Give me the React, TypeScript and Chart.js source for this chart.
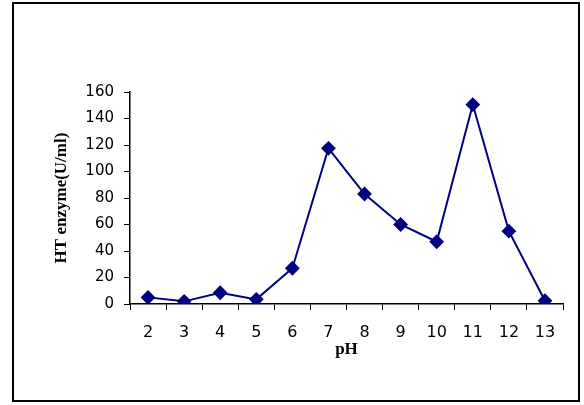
import React, { useEffect, useRef } from "react";
import { Chart, registerables } from "chart.js";

Chart.register(...registerables);

const phLabels = ["2", "3", "4", "5", "6", "7", "8", "9", "10", "11", "12", "13"];
const enzymeValues = [5, 2, 8.5, 3.5, 27, 117.5, 83, 60, 47, 150.5, 55, 2.5];
const yMin = 0;
const yMax = 160;
const yStep = 20;
const yTitle = "HT enzyme(U/ml)";
const xTitle = "pH";

const frame = {
  id: "frame",
  afterDraw(chart: any) {
    const ctx = chart.ctx;
    ctx.save();
    ctx.strokeStyle = "#000";
    ctx.lineWidth = 2;
    ctx.strokeRect(13, 3, 566, 398);
    ctx.restore();
  },
};

export default function App() {
  const ref = useRef<HTMLCanvasElement | null>(null);
  useEffect(() => {
    if (!ref.current) return;
    const chart = new Chart(ref.current, {
      type: "line",
      data: {
        labels: phLabels,
        datasets: [
          {
            data: enzymeValues,
            borderColor: "#000080",
            backgroundColor: "#000080",
            borderWidth: 2,
            pointStyle: "rectRot",
            pointRadius: 6,
            pointHoverRadius: 6,
            tension: 0,
          },
        ],
      },
      options: {
        animation: false,
        responsive: false,
        events: [],
        layout: { padding: { top: 92, right: 21, left: 0, bottom: 0 } },
        plugins: { legend: { display: false }, tooltip: { enabled: false } },
        scales: {
          x: {
            offset: true,
            grid: {
              offset: true,
              drawOnChartArea: false,
              drawTicks: true,
              tickLength: 6,
              color: "#000",
            },
            border: { display: true, color: "#000", width: 1.5 },
            ticks: {
              color: "#000",
              padding: 13,
              font: { family: "'DejaVu Sans'", size: 16 },
              maxRotation: 0,
            },
            title: {
              display: true,
              text: xTitle,
              color: "#000",
              font: { family: "'Liberation Serif'", size: 17, weight: "bold" },
              padding: { top: 0, bottom: 45 },
            },
            afterFit: (s: any) => {
              s.height = 101;
            },
          },
          y: {
            min: yMin,
            max: yMax,
            grid: {
              drawOnChartArea: false,
              drawTicks: true,
              tickLength: 6,
              color: "#000",
            },
            border: { display: true, color: "#000", width: 1.5 },
            ticks: {
              stepSize: yStep,
              color: "#000",
              padding: 10,
              font: { family: "'DejaVu Sans'", size: 15 },
            },
            title: {
              display: true,
              text: yTitle,
              color: "#000",
              font: { family: "'Liberation Serif'", size: 17, weight: "bold" },
              padding: { top: 51, bottom: 0 },
            },
            afterFit: (s: any) => {
              s.width = 130;
            },
          },
        },
      },
      plugins: [frame],
    });
    return () => chart.destroy();
  }, []);
  return (
    <div style={{ position: "fixed", left: 0, top: 0, width: 584, height: 405, background: "#fff" }}>
      <canvas ref={ref} width={584} height={405} style={{ display: "block" }} />
    </div>
  );
}
